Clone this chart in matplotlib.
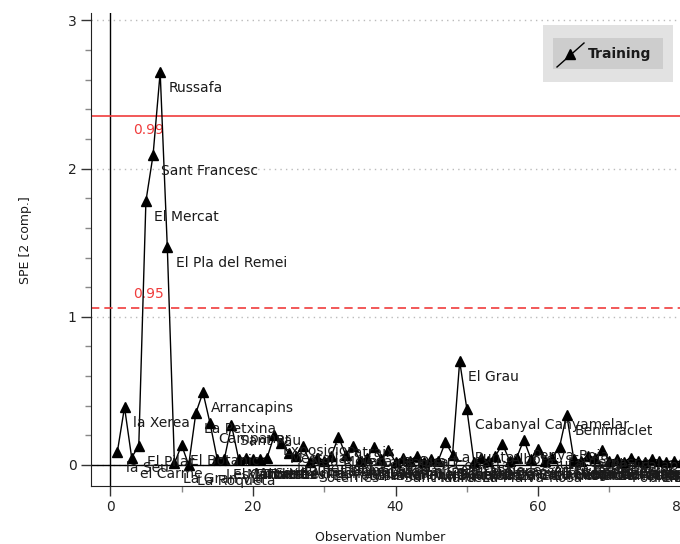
import numpy as np
import matplotlib.pyplot as plt
from matplotlib.patches import Rectangle
from matplotlib.lines import Line2D

# observation names (Valencia neighbourhoods) and SPE values
names = ["la Seu", "la Xerea", "el Carme", "El Pilar", "El Mercat", "Sant Francesc",
         "Russafa", "El Pla del Remei", "La Gran Via", "El Botanic", "La Roqueta",
         "La Petxina", "Arrancapins", "Campanar", "Les Tendetes", "El Calvari",
         "Sant Pau", "Marxalenes", "Morvedre", "Trinitat", "Tormos", "Sant Antoni",
         "Exposicio", "Mestalla", "Jaume Roig", "Ciutat Universitaria", "Nou Moles",
         "Soternes", "Tres Forques", "La Fontsanta", "La Llum", "Patraix",
         "Sant Isidre", "Vara de Quart", "Safranar", "Favara", "La Raiosa",
         "L'Hort de Senabre", "La Creu Coberta", "Sant Marcel.li", "Cami Real",
         "Mont-Olivet", "En Corts", "Malilla", "La Fonteta de Sant Lluis",
         "Na Rovella", "La Punta", "Ciutat de les Arts i les Ciencies", "El Grau",
         "Cabanyal Canyamelar", "La Malva-Rosa", "Betero", "Natzaret", "Aiora",
         "Albors", "La Creu del Grau", "Cami Fondo", "Penya-Roja", "L'Illa Perduda",
         "Ciutat Jardi", "L'Amistat", "La Vega Baixa", "La Carrasca", "Benimaclet",
         "Cami de Vera", "Orriols", "Torrefiel", "Sant Llorenc", "Benicalap",
         "Ciutat Fallera", "Benifaraig", "Poble Nou", "Carpesa", "Cases de Barcena",
         "Mauella", "Massarrojos", "Borboto", "Benimamet", "Beniferri",
         "El Forn d'Alcedo", "Castellar-l'Oliveral", "Pinedo", "El Saler"]
spe = [0.09, 0.39, 0.05, 0.13, 1.78, 2.09,
       2.65, 1.47, 0.01, 0.135, 0.0,
       0.35, 0.49, 0.28, 0.04, 0.04,
       0.27, 0.04, 0.05, 0.04, 0.04, 0.05,
       0.20, 0.15, 0.08, 0.06, 0.13,
       0.02, 0.05, 0.03, 0.06, 0.19,
       0.07, 0.13, 0.03, 0.05, 0.12,
       0.04, 0.10, 0.02, 0.05,
       0.03, 0.06, 0.02, 0.04,
       0.03, 0.155, 0.07, 0.70,
       0.38, 0.02, 0.05, 0.03, 0.06,
       0.14, 0.03, 0.05, 0.17, 0.04,
       0.11, 0.03, 0.05, 0.12, 0.34,
       0.04, 0.03, 0.06, 0.05, 0.10,
       0.03, 0.04, 0.02, 0.05, 0.03,
       0.02, 0.04, 0.03, 0.02, 0.03,
       0.02, 0.03, 0.02, 0.03]
obs = np.arange(1, len(spe) + 1)

lim99 = 2.352
lim95 = 1.062
red = "#f03c3c"
txt = "#1a1a1a"

fig = plt.figure(figsize=(6.8, 5.44), dpi=100)
ax = fig.add_axes([91 / 680, 1 - 485.7 / 544, 609 / 680, 472.7 / 544])
ax.set_xlim(-2.7, 82.7)
ax.set_ylim(-0.14, 3.05)

ax.set_yticks([0, 1, 2, 3])
ax.set_yticks(np.arange(0, 3.01, 0.2), minor=True)
ax.set_xticks([0, 20, 40, 60, 80])
ax.set_xticks([10, 30, 50, 70], minor=True)
ax.tick_params(which="major", length=7, width=1, color="#333333", labelsize=10, labelcolor="#222222")
ax.tick_params(which="minor", length=4, width=1, color="#888888")
for s in ["top", "right"]:
    ax.spines[s].set_visible(False)
ax.spines["left"].set_color("#222222")
ax.spines["bottom"].set_color("#222222")

ax.grid(axis="y", which="major", linestyle=(0, (1, 3)), color="#bbbbbb", lw=1)
ax.axhline(0, color="black", lw=1)
ax.axvline(0, color="black", lw=1)

ax.axhline(lim99, color=red, lw=1.2)
ax.axhline(lim95, color=red, lw=1.2, ls=(0, (5, 3)))
ax.annotate("0.99", (3.2, lim99), xytext=(0, -10), textcoords="offset points",
            color=red, fontsize=10, va="center")
ax.annotate("0.95", (3.2, lim95), xytext=(0, 10), textcoords="offset points",
            color=red, fontsize=10, va="center")

ax.plot(obs, spe, color="black", lw=1, marker="^", ms=7, zorder=3)
for o, v, n in zip(obs, spe, names):
    ax.annotate(n, (o, v), xytext=(6, -11.5), textcoords="offset points",
                fontsize=10, color=txt, va="center", ha="left")

ax.set_ylabel("SPE [2 comp.]", fontsize=9, color=txt)
ax.yaxis.set_label_coords(-0.097, 0.52)
ax.set_xlabel("Observation Number", fontsize=9, color=txt)
ax.xaxis.set_label_coords(0.475, -0.095)

# legend box
fig.add_artist(Rectangle((543 / 680, 1 - 82 / 544), 130 / 680, 57 / 544,
                         transform=fig.transFigure, facecolor="#e2e2e2", edgecolor="none"))
fig.add_artist(Rectangle((553 / 680, 1 - 69 / 544), 110 / 680, 31 / 544,
                         transform=fig.transFigure, facecolor="#cdcdcd", edgecolor="none"))
fig.add_artist(Line2D([557 / 680, 584 / 680], [1 - 67 / 544, 1 - 43 / 544],
                      transform=fig.transFigure, color="black", lw=1))
fig.add_artist(Line2D([570 / 680], [1 - 54 / 544], transform=fig.transFigure,
                      color="black", marker="^", ms=7))
fig.text(588 / 680, 1 - 54 / 544, "Training", fontsize=10, fontweight="bold",
         color=txt, va="center", ha="left")

fig.savefig("out.png", dpi=100)
